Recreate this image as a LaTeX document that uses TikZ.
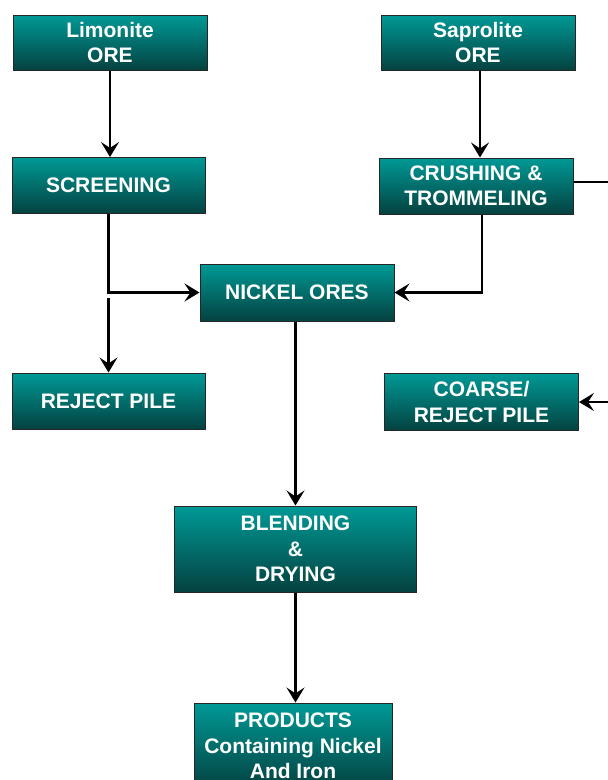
\documentclass[tikz,border=0pt]{standalone}
\usepackage{fontspec}
\setmainfont{Liberation Sans}
\usetikzlibrary{arrows.meta, positioning}

\definecolor{boxtop}{RGB}{0,153,150}
\definecolor{boxbot}{RGB}{4,66,64}

\begin{document}
\begin{tikzpicture}[
    x=1pt, y=-1pt,
    font=\bfseries\fontsize{21}{25.5}\selectfont,
    procbox/.style={
        draw=black!85,
        line width=1pt,
        top color=boxtop,
        bottom color=boxbot,
        text=white,
        align=center,
        inner sep=0pt,
        minimum width=194pt,
        minimum height=56pt
    },
    flow/.style={
        line width=2.6pt,
        -{Stealth[length=15pt, width=18pt, inset=6pt]}
    },
    plain/.style={
        line width=2.6pt
    }
]

    % Canvas
    \useasboundingbox[fill=white] (0,0) rectangle (608,780);

    % Ores
    \node[procbox, minimum height=55pt] (limonite) at (110,42.5) {Limonite\\ORE};
    \node[procbox, minimum height=55pt] (saprolite) at (478,42.5) {Saprolite\\ORE};

    % First stage
    \node[procbox, minimum width=193pt] (screening) at (108.5,185.5) {SCREENING};
    \node[procbox] (crushing) at (476,186) {CRUSHING \&\\TROMMELING};

    % Middle
    \node[procbox, minimum height=57pt] (nickel) at (297,292.5) {NICKEL ORES};
    \node[procbox, minimum width=193pt] (reject) at (108.5,401) {REJECT PILE};
    \node[procbox, minimum height=57pt] (coarse) at (481.5,402) {COARSE/\\REJECT PILE};

    % Bottom
    \node[procbox, minimum width=242pt, minimum height=86pt] (blending) at (295.5,549) {BLENDING\\\&\\DRYING};
    \node[procbox, minimum width=198pt, minimum height=86pt] (products) at (293,746) {PRODUCTS\\Containing Nickel\\And Iron};

    % Free ends
    \coordinate (split) at (108.5,298);
    \coordinate (rightedge) at (612,0);

    % Connectors
    \draw[flow] (limonite.south) -- (limonite.south |- screening.north);
    \draw[flow] ([xshift=2pt]saprolite.south) -- ([xshift=2pt]saprolite.south |- crushing.north);
    \draw[flow] (screening.south) |- (nickel.west);
    \draw[flow] (split) -- (split |- reject.north);
    \draw[flow] ([xshift=6pt]crushing.south) |- (nickel.east);
    \draw[plain] ([yshift=4pt]crushing.east) -- ([yshift=4pt]crushing.east -| rightedge);
    \draw[flow] (rightedge |- coarse.east) -- (coarse.east);
    \draw[flow] (blending.north |- nickel.south) -- (blending.north);
    \draw[flow] (blending.south) -- (blending.south |- products.north);

\end{tikzpicture}
\end{document}
